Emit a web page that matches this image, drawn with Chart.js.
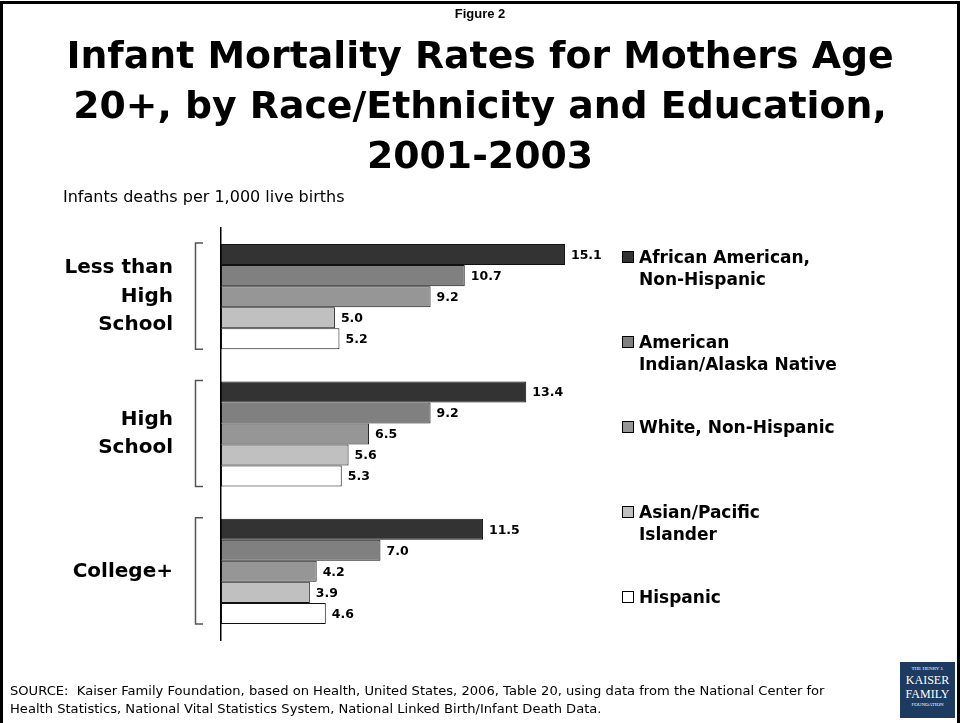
<!DOCTYPE html>
<html>
<head>
<meta charset="utf-8">
<script src="https://cdn.jsdelivr.net/npm/chart.js@4/dist/chart.umd.min.js"></script>
<style>
  html, body { margin:0; padding:0; background:#fff; }
  #wrap { position:relative; width:960px; height:723px; overflow:hidden; background:#fff; }
  #frame { position:absolute; left:0; top:1px; width:954px; height:740px; border:3px solid #000; box-sizing:content-box; }
  #chart { position:absolute; left:0; top:0; }
  .t { position:absolute; font-family:"DejaVu Sans", Verdana, sans-serif; color:#000; white-space:nowrap; }
  #fig { left:0; width:960px; top:6px; text-align:center; font-family:"Liberation Sans Narrow","Liberation Sans",Arial,sans-serif; font-weight:bold; font-size:13px; }
  #title { left:0; width:960px; top:30px; text-align:center; font-weight:bold; font-size:37.8px; line-height:50px; }
  #unit { left:63px; top:187px; font-size:16px; }
  #source { left:10px; top:682px; font-size:13.1px; line-height:18px; }
  #logo { position:absolute; left:900px; top:662px; width:55px; height:56px; background:#1d3a60; color:#fff; font-family:"Liberation Serif", serif; text-align:center; }
  #logo .s { font-size:5px; line-height:8px; margin-top:3px; }
  #logo .b { font-size:12px; line-height:14px; }
</style>
</head>
<body>
<div id="wrap">
  <canvas id="chart" width="960" height="723"></canvas>
  <div id="frame"></div>
  <div class="t" id="fig">Figure 2</div>
  <div class="t" id="title">Infant Mortality Rates for Mothers Age<br>20+, by Race/Ethnicity and Education,<br>2001-2003</div>
  <div class="t" id="unit">Infants deaths per 1,000 live births</div>
  <div class="t" id="source">SOURCE:&nbsp; Kaiser Family Foundation, based on Health, United States, 2006, Table 20, using data from the National Center for<br>Health Statistics, National Vital Statistics System, National Linked Birth/Infant Death Data.</div>
  <div id="logo"><div class="s">THE HENRY J.</div><div class="b">KAISER</div><div class="b">FAMILY</div><div class="s" style="margin-top:0">FOUNDATION</div></div>
</div>
<script>
const categories = [["Less than","High","School"],["High","School"],["College+"]];
const seriesNames = [["African American,","Non-Hispanic"],["American","Indian/Alaska Native"],["White, Non-Hispanic"],["Asian/Pacific","Islander"],["Hispanic"]];
const africanAmerican = [15.1, 13.4, 11.5];
const americanIndian = [10.7, 9.2, 7.0];
const whiteNonHispanic = [9.2, 6.5, 4.2];
const asianPacific = [5.0, 5.6, 3.9];
const hispanic = [5.2, 5.3, 4.6];
const seriesValues = [africanAmerican, americanIndian, whiteNonHispanic, asianPacific, hispanic];
const seriesColors = ["#333333", "#808080", "#969696", "#c0c0c0", "#ffffff"];
const xMax = 16;

const CAT_PCT = 0.766;

const extras = {
  id: "extras",
  afterDatasetsDraw(chart) {
    const ctx = chart.ctx;
    const y = chart.scales.y;
    const ca = chart.chartArea;
    const catH = (ca.bottom - ca.top) / categories.length;
    ctx.save();
    // value labels
    ctx.font = "bold 12.5px 'DejaVu Sans', Verdana, sans-serif";
    ctx.fillStyle = "#000";
    ctx.textAlign = "left";
    ctx.textBaseline = "middle";
    chart.data.datasets.forEach((ds, di) => {
      chart.getDatasetMeta(di).data.forEach((bar, i) => {
        ctx.fillText(ds.data[i].toFixed(1), bar.x + 6, bar.y + 1);
      });
    });
    // brackets and category labels
    categories.forEach((lines, i) => {
      const c = y.getPixelForValue(i);
      const h = catH * CAT_PCT / 2;
      ctx.strokeStyle = "#555";
      ctx.lineWidth = 1.5;
      ctx.beginPath();
      ctx.moveTo(203, c - h - 1);
      ctx.lineTo(195.5, c - h - 1);
      ctx.lineTo(195.5, c + h);
      ctx.lineTo(203, c + h);
      ctx.stroke();
      ctx.font = "bold 20px 'DejaVu Sans', Verdana, sans-serif";
      ctx.fillStyle = "#000";
      ctx.textAlign = "right";
      const lh = 28.5;
      const start = c - (lines.length - 1) * lh / 2;
      lines.forEach((ln, k) => ctx.fillText(ln, 173, start + k * lh));
    });
    // legend
    ctx.textAlign = "left";
    ctx.font = "bold 17px 'DejaVu Sans', Verdana, sans-serif";
    seriesNames.forEach((lines, i) => {
      const ly = 258 + i * 85;
      ctx.fillStyle = seriesColors[i];
      ctx.fillRect(622.5, ly - 6.5, 11, 11);
      ctx.strokeStyle = "#000";
      ctx.lineWidth = 1;
      ctx.strokeRect(622.5, ly - 6.5, 11, 11);
      ctx.fillStyle = "#000";
      lines.forEach((ln, k) => ctx.fillText(ln, 639, ly + 1 + k * 22));
    });
    ctx.restore();
  }
};

new Chart(document.getElementById("chart"), {
  type: "bar",
  data: {
    labels: categories,
    datasets: seriesValues.map((vals, i) => ({
      label: seriesNames[i].join(" "),
      data: vals,
      backgroundColor: seriesColors[i],
      borderColor: "#111",
      borderWidth: 1,
      borderSkipped: false,
      barPercentage: 1.0,
      categoryPercentage: CAT_PCT
    }))
  },
  options: {
    indexAxis: "y",
    responsive: false,
    animation: false,
    events: [],
    layout: { padding: { left: 221, right: 960 - (221 + 22.78 * xMax), top: 228, bottom: 83 } },
    plugins: { legend: { display: false }, tooltip: { enabled: false }, title: { display: false } },
    scales: {
      x: { display: false, min: 0, max: xMax },
      y: {
        display: true,
        ticks: { display: false },
        grid: { display: false, drawTicks: false },
        border: { display: true, color: "#000", width: 1.5 }
      }
    }
  },
  plugins: [extras]
});
</script>
</body>
</html>
